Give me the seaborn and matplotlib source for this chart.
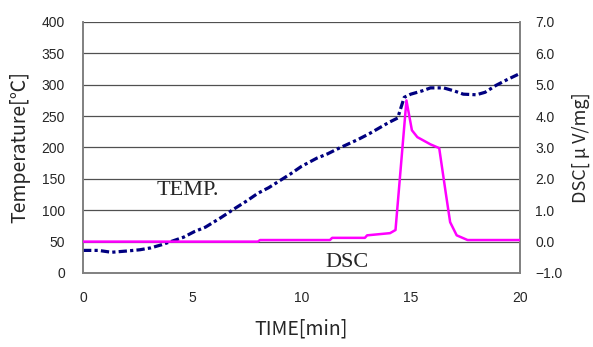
import matplotlib
matplotlib.use('Agg')
import matplotlib.pyplot as plt
import seaborn as sns

# temperature curve [min, degC]
temp_time = [0, 0.7, 1.3, 2.0, 2.6, 3.1, 3.6, 4.1, 4.6, 5.1, 5.6, 6.3, 7.0, 7.5, 8.0,
             8.5, 9.0, 9.5, 10.0, 10.7, 11.2, 11.6, 12.1, 12.6, 13.1, 13.6, 14.0, 14.4,
             14.7, 15.0, 15.5, 15.9, 16.5, 17.0, 17.4, 18.0, 18.4, 18.9, 19.4, 20.0]
temp_vals = [36, 36, 33, 35, 37, 40, 45, 51, 57, 66, 73, 88, 104, 115, 127,
             136, 147, 158, 170, 183, 190, 197, 205, 213, 222, 232, 240, 247,
             280, 285, 290, 295, 295, 290, 285, 284, 288, 299, 308, 318]

# DSC curve [min, uV/mg]
dsc_time = [0, 8.0, 8.1, 11.3, 11.4, 12.9, 13.0, 13.6, 14.05, 14.3, 14.8, 15.05,
            15.3, 15.9, 16.3, 16.6, 16.8, 17.1, 17.6, 20.0]
dsc_vals = [0, 0, 0.05, 0.05, 0.12, 0.12, 0.2, 0.24, 0.27, 0.37, 4.5, 3.55,
            3.33, 3.1, 2.98, 1.55, 0.62, 0.2, 0.05, 0.05]

x_ticks = [0, 5, 10, 15, 20]
temp_ticks = list(range(0, 401, 50))
dsc_ticks = [-1.0, 0.0, 1.0, 2.0, 3.0, 4.0, 5.0, 6.0, 7.0]

sns.set_style('white')
plt.rcParams['font.family'] = ['Noto Sans CJK JP', 'DejaVu Sans']
plt.rcParams['axes.unicode_minus'] = True

fig = plt.figure(figsize=(5.93, 3.47), dpi=100)
ax = fig.add_axes([0.14, 0.2133, 0.737, 0.7233])
ax2 = ax.twinx()

sns.lineplot(x=temp_time, y=temp_vals, ax=ax, color='#000080', lw=2.3,
             linestyle=(0, (2.6, 1.0, 1.0, 1.0)), zorder=3)
sns.lineplot(x=dsc_time, y=dsc_vals, ax=ax2, color='#ff00ff', lw=1.8, zorder=3)

ax.set_xlim(0, 20)
ax.set_ylim(0, 400)
ax2.set_ylim(-1, 7)
ax.set_xticks(x_ticks)
ax.set_yticks(temp_ticks)
ax2.set_yticks(dsc_ticks)
ax2.set_yticklabels([('%.1f' % v).replace('-', '\u2212') for v in dsc_ticks])

for y in temp_ticks[1:]:
    ax.axhline(y, color='#505050', lw=0.9, zorder=1)

for a in (ax, ax2):
    for s in a.spines.values():
        s.set_color('#808080')
        s.set_linewidth(1.2)
ax.spines['top'].set_visible(False)
ax2.spines['top'].set_visible(False)

ax.tick_params(axis='x', direction='in', length=5, color='#404040', pad=13, labelsize=10)
ax.tick_params(axis='y', length=0, pad=13, labelsize=10)
ax2.tick_params(axis='y', length=0, pad=11, labelsize=10)
for lab in ax.get_xticklabels() + ax.get_yticklabels() + ax2.get_yticklabels():
    lab.set_family('Liberation Sans')

ax.set_xlabel('TIME[min]', fontsize=14, labelpad=10)
ax.set_ylabel('Temperature[℃]', fontsize=14, labelpad=8)
ax2.set_ylabel('DSC[ μ V/mg]', fontsize=13, rotation=90)
ax2.yaxis.set_label_coords(1.118, 0.5)

ax.text(4.8, 132, 'TEMP.', family='Liberation Serif', fontsize=16,
        ha='center', va='center')
ax.text(12.1, 17, 'DSC', family='Liberation Serif', fontsize=16,
        ha='center', va='center')

fig.savefig('out.png', dpi=100)
